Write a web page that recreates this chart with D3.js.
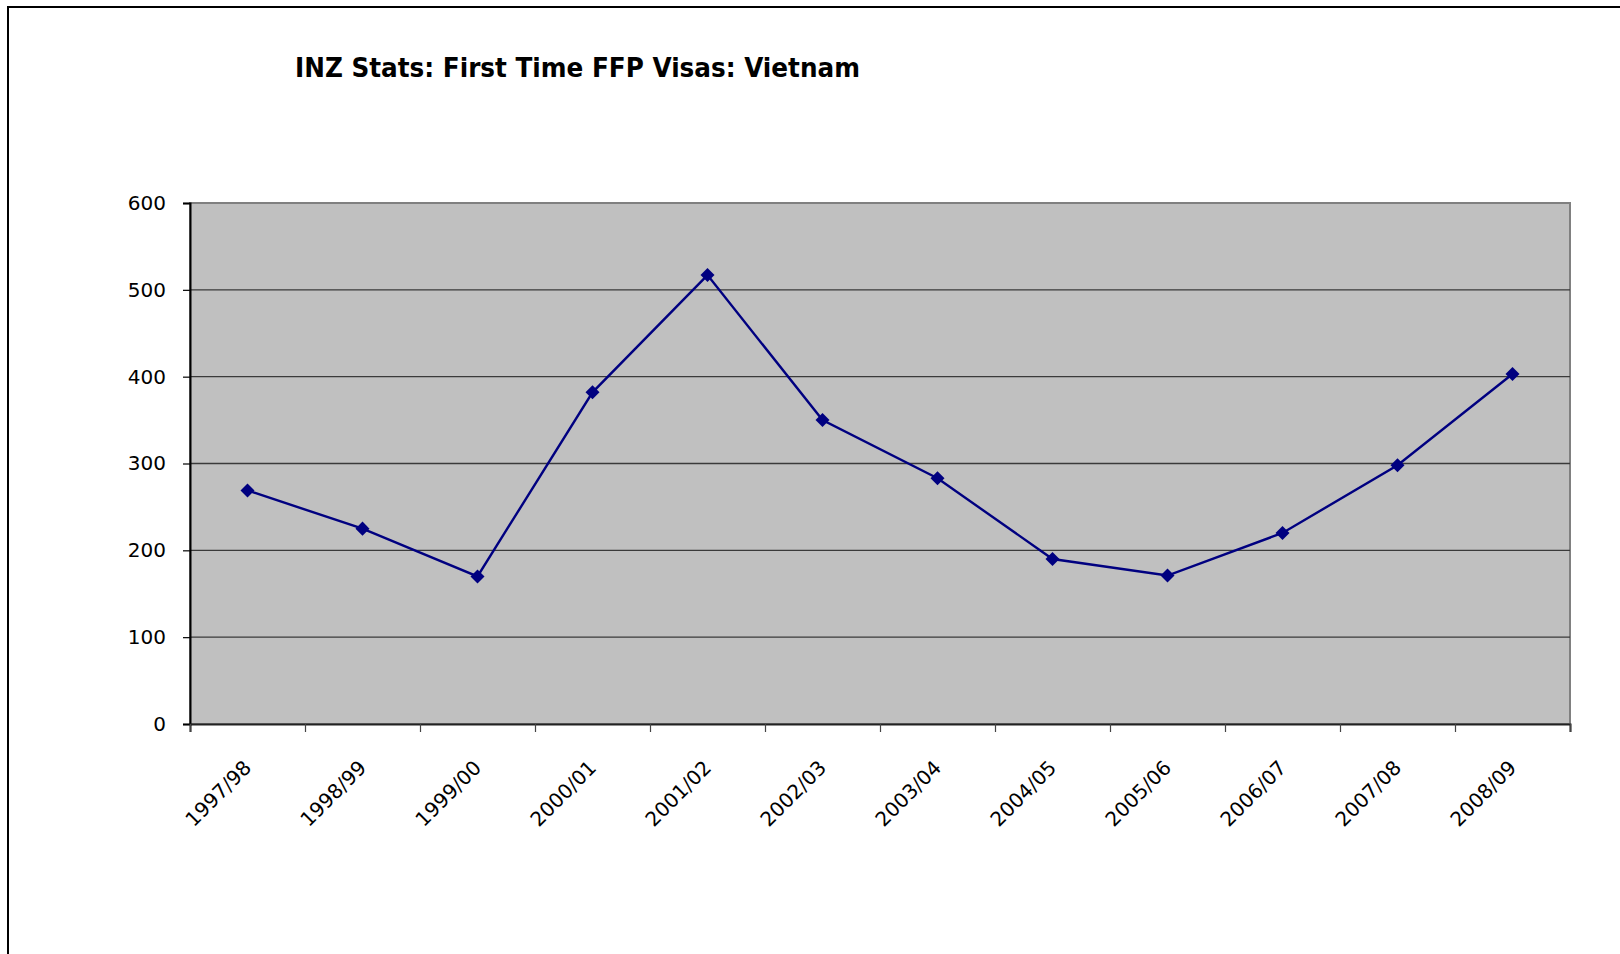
<!DOCTYPE html>
<html>
<head>
<meta charset="utf-8">
<script src="https://cdn.jsdelivr.net/npm/d3@7"></script>
<style>
  body { margin: 0; background: #fff; }
  svg { display: block; }
  .tick text { font-family: 'DejaVu Sans', sans-serif; font-size: 20px; fill: #000; }
</style>
</head>
<body>
<svg></svg>
<script>
// chart data
let years = ['1997/98', '1998/99', '1999/00', '2000/01', '2001/02', '2002/03',
             '2003/04', '2004/05', '2005/06', '2006/07', '2007/08', '2008/09']
let visas = [269, 225, 170, 382, 517, 350, 283, 190, 171, 220, 298, 403]
let yTicks = [0, 100, 200, 300, 400, 500, 600]
let chartTitle = 'INZ Stats: First Time FFP Visas: Vietnam'

let width = 1620
let height = 954
let plotLeft = 190
let plotRight = 1570
let plotTop = 203
let plotBottom = 724

let svg = d3.select('svg')
    .attr('width', width)
    .attr('height', height)

// outer frame (runs off the page right and bottom)
svg.append('rect')
    .attr('x', 8)
    .attr('y', 7)
    .attr('width', 1700)
    .attr('height', 1100)
    .attr('fill', 'none')
    .attr('stroke', '#000')
    .attr('stroke-width', 2)

svg.append('text')
    .attr('x', 295)
    .attr('y', 77)
    .attr('font-family', "'DejaVu Sans Condensed', 'DejaVu Sans', sans-serif")
    .attr('font-weight', 'bold')
    .attr('font-size', 27)
    .attr('textLength', 565)
    .attr('lengthAdjust', 'spacingAndGlyphs')
    .text(chartTitle)

let xScale = d3.scaleBand()
    .domain(years)
    .range([plotLeft, plotRight])
    .padding(0)

let edgeScale = d3.scaleLinear()
    .domain([0, years.length])
    .range([plotLeft, plotRight])

let yScale = d3.scaleLinear()
    .domain([0, 600])
    .range([plotBottom, plotTop])

// plot background
svg.append('rect')
    .attr('x', plotLeft)
    .attr('y', plotTop)
    .attr('width', plotRight - plotLeft)
    .attr('height', plotBottom - plotTop)
    .attr('fill', '#c0c0c0')
    .attr('stroke', '#808080')
    .attr('stroke-width', 2)

// gridlines
svg.append('g')
    .selectAll('line')
    .data(yTicks.filter(d => d > 0 && d < 600))
    .enter()
    .append('line')
    .attr('x1', plotLeft)
    .attr('x2', plotRight)
    .attr('y1', d => yScale(d))
    .attr('y2', d => yScale(d))
    .attr('stroke', '#3a3a3a')
    .attr('stroke-width', 1.3)

let yAxis = d3.axisLeft(yScale)
    .tickValues(yTicks)
    .tickSize(7)
    .tickPadding(17)
svg.append('g')
    .attr('id', 'y-axis')
    .attr('transform', 'translate(' + plotLeft + ',0)')
    .call(yAxis)
    .call(g => g.select('.domain').attr('stroke', '#000').attr('stroke-width', 2))
    .call(g => g.selectAll('.tick line').attr('stroke', '#000').attr('stroke-width', 1.2))

// boundary ticks on the category axis
let xEdges = d3.axisBottom(edgeScale)
    .tickValues(d3.range(years.length + 1))
    .tickSize(8)
    .tickFormat('')
svg.append('g')
    .attr('transform', 'translate(0,' + plotBottom + ')')
    .call(xEdges)
    .call(g => g.select('.domain').attr('stroke', '#222').attr('stroke-width', 2))
    .call(g => g.selectAll('.tick line').attr('stroke', '#444').attr('stroke-width', 1.2))

let xAxis = d3.axisBottom(xScale).tickSize(0)
svg.append('g')
    .attr('id', 'x-axis')
    .attr('transform', 'translate(0,' + plotBottom + ')')
    .call(xAxis)
    .call(g => g.select('.domain').remove())
    .call(g => g.selectAll('.tick text')
        .attr('text-anchor', 'end')
        .attr('dy', 0)
        .attr('y', 0)
        .attr('transform', 'translate(5,45) rotate(-45)'))

let line = d3.line()
    .x((d, i) => xScale(years[i]) + xScale.bandwidth() / 2)
    .y(d => yScale(d))

svg.append('path')
    .datum(visas)
    .attr('d', line)
    .attr('fill', 'none')
    .attr('stroke', '#000080')
    .attr('stroke-width', 2.4)

svg.append('g')
    .selectAll('path')
    .data(visas)
    .enter()
    .append('path')
    .attr('d', d3.symbol().type(d3.symbolDiamond2).size(125))
    .attr('transform', (d, i) => 'translate(' + (xScale(years[i]) + xScale.bandwidth() / 2) + ',' + yScale(d) + ')')
    .attr('fill', '#000080')
</script>
</body>
</html>
